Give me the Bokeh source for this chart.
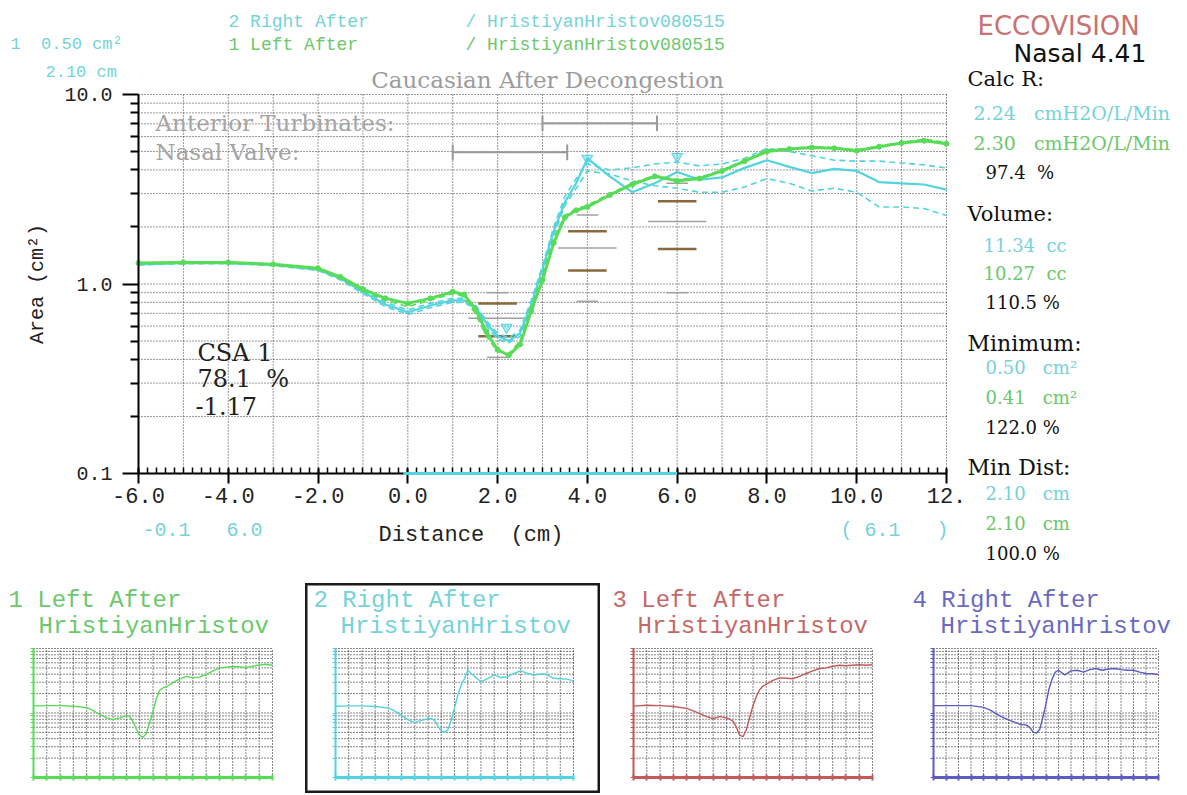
import numpy as np
from bokeh.plotting import figure
from bokeh.models import Label, FixedTicker, Range1d
from bokeh.layouts import column, row
from bokeh.embed import file_html
from bokeh.resources import INLINE

# ---------------- data ----------------
dist_cm = [-6, -5, -4, -3, -2, -1.5, -1, -0.5, 0, 0.5, 1, 1.25, 1.5, 1.75, 2, 2.25, 2.5, 2.75,
           3, 3.25, 3.5, 3.75, 4, 4.5, 5, 5.5, 6, 6.5, 7, 7.5, 8, 8.5, 9, 9.5, 10, 10.5, 11, 11.5, 12]

left_after = [1.29, 1.30, 1.30, 1.27, 1.21, 1.09, 0.94, 0.84, 0.79, 0.84, 0.91, 0.88, 0.74, 0.56, 0.45, 0.42, 0.48, 0.72,
              1.05, 1.65, 2.25, 2.45, 2.55, 2.95, 3.35, 3.70, 3.50, 3.60, 3.95, 4.45, 5.00, 5.15, 5.25, 5.20, 5.05, 5.30, 5.55, 5.70, 5.50]
left_after_ref = [1.28, 1.31, 1.31, 1.26, 1.20, 1.07, 0.92, 0.82, 0.76, 0.82, 0.89, 0.86, 0.70, 0.53, 0.44, 0.43, 0.50, 0.76,
                  1.12, 1.75, 2.30, 2.50, 2.60, 3.00, 3.40, 3.75, 3.55, 3.65, 4.00, 4.50, 5.10, 5.20, 5.30, 5.25, 5.10, 5.35, 5.60, 5.80, 5.60]
right_after = [1.27, 1.29, 1.29, 1.26, 1.19, 1.07, 0.91, 0.78, 0.71, 0.77, 0.82, 0.82, 0.76, 0.62, 0.53, 0.50, 0.55, 0.78,
               1.20, 1.90, 2.70, 3.40, 4.60, 3.70, 3.05, 3.40, 3.90, 3.55, 3.65, 4.10, 4.50, 4.15, 3.85, 4.05, 3.95, 3.45, 3.40, 3.35, 3.15]
right_after_hi = [1.28, 1.30, 1.30, 1.27, 1.21, 1.09, 0.93, 0.80, 0.73, 0.79, 0.84, 0.84, 0.78, 0.64, 0.55, 0.52, 0.57, 0.82,
                  1.25, 2.00, 2.90, 3.60, 4.30, 4.00, 4.10, 4.30, 4.40, 4.20, 4.30, 4.60, 5.20, 5.00, 4.75, 4.50, 4.45, 4.45, 4.35, 4.25, 4.10]
right_after_lo = [1.26, 1.28, 1.28, 1.25, 1.18, 1.05, 0.89, 0.76, 0.69, 0.75, 0.80, 0.80, 0.74, 0.60, 0.51, 0.49, 0.53, 0.74,
                  1.15, 1.80, 2.60, 3.20, 3.95, 3.80, 3.50, 3.30, 3.20, 3.05, 3.05, 3.25, 3.60, 3.40, 3.10, 3.20, 3.05, 2.55, 2.55, 2.50, 2.30]
left_after_3 = [1.28, 1.32, 1.30, 1.26, 1.18, 1.08, 0.98, 0.88, 0.82, 0.88, 0.84, 0.80, 0.74, 0.60, 0.45, 0.43, 0.55, 0.85,
                1.30, 1.80, 2.30, 2.60, 2.80, 3.20, 3.50, 3.45, 3.40, 3.70, 4.10, 4.50, 4.90, 5.00, 5.30, 5.50, 5.40, 5.50, 5.60, 5.50, 5.60]
right_after_4 = [1.30, 1.30, 1.30, 1.30, 1.22, 1.12, 0.98, 0.86, 0.78, 0.72, 0.66, 0.66, 0.64, 0.58, 0.50, 0.49, 0.56, 0.85,
                 1.40, 2.40, 3.40, 4.30, 4.60, 3.90, 4.50, 4.60, 4.30, 4.70, 4.90, 4.60, 4.80, 4.90, 4.70, 4.60, 4.60, 4.30, 4.10, 4.05, 3.95]

# normative (Caucasian after decongestion) reference marks
norm_x = [2.0, 4.0, 6.0]
norm_sd_hi = [0.79, 1.90, 2.73]
norm_sd_lo = [0.53, 1.18, 1.53]
norm_mean = [0.66, 1.55, 2.14]
norm_2sd_hi = [0.90, 2.31, 3.40]
norm_2sd_lo = [0.41, 0.81, 0.90]

region_names = ["Anterior Turbinates:", "Nasal Valve:"]
region_start = [3.0, 1.0]
region_end = [5.55, 3.55]
region_area = [7.05, 4.95]

marker_x = [2.2, 4.0, 6.0]
marker_area = [0.59, 4.6, 4.7]

measure_range = [-0.1, 6.0]

x_ticks = [-6, -4, -2, 0, 2, 4, 6, 8, 10, 12]
x_tick_labels = ["-6.0", "-4.0", "-2.0", "0.0", "2.0", "4.0", "6.0", "8.0", "10.0", "12."]
y_ticks = [0.1, 1, 10]
y_tick_labels = ["0.1", "1.0", "10.0"]

# ---------------- styles ----------------
CYAN = "#52d4df"
CYAN_T = "#74d3d9"
GREEN = "#58dc58"
GREEN_T = "#6cc86c"
RED = "#c25a5a"
BLUE = "#5c5cc4"
GRAY_T = "#9c9c9c"
BROWN = "#8a6a3c"
GRID = "#333333"
MONO = "Liberation Mono"
SERIF = "DejaVu Serif"
SANS = "DejaVu Sans"
SP = "\u00a0"   # hard space: keeps the column spacing of the original texts

LOG_GRID = [m * 10.0 ** e for e in (-1, 0) for m in range(1, 10)] + [10.0]
LOG_MINOR = [m * 10.0 ** e for e in (-1, 0) for m in range(2, 10)]
INT_GRID = list(range(-6, 13))

# main canvas: the frame covers the whole canvas, the data box sits inside it
W_MAIN, H_MAIN = 1187, 583
FL, FT, FW, FH = 138, 94, 808, 379     # data box (px) inside the canvas
KX = FW / 18.0
DEC = FH / 2.0


def mx(px):
    return -6 + (px - FL) / KX


def my(py):
    return 10 ** (-1 + (FT + FH - py) / DEC)


def add_text(fig, x, y, text, color, font, size, align="left", baseline="middle"):
    fig.add_layout(Label(x=x, y=y, text=text.replace("  ", SP + SP).replace(SP + " ", SP + SP),
                         text_color=color, text_font=font,
                         text_font_size=f"{size}px", text_align=align, text_baseline=baseline))


def draw_grid(fig, color, dash="1 2", level="underlay"):
    vx = INT_GRID[1:]
    fig.segment(x0=vx, x1=vx, y0=[0.1] * len(vx), y1=[10.0] * len(vx), line_color=color,
                line_width=1, line_dash=dash, level=level)
    hy = LOG_GRID[1:]
    fig.segment(x0=[-6] * len(hy), x1=[12] * len(hy), y0=hy, y1=hy, line_color=color,
                line_width=1, line_dash=dash, level=level)


p = figure(frame_width=W_MAIN, frame_height=H_MAIN,
           x_range=Range1d(mx(0), mx(W_MAIN)), y_range=Range1d(my(H_MAIN), my(0)),
           y_axis_type="log", min_border=0, output_backend="svg",
           toolbar_location=None, outline_line_color=None)
p.xgrid.visible = False
p.ygrid.visible = False
draw_grid(p, GRID)

# axes, pinned to the data box
xa = p.xaxis[0]
xa.fixed_location = 0.1
xa.bounds = (-6, 12)
xa.ticker = FixedTicker(ticks=x_ticks, minor_ticks=[round(v, 2) for v in np.arange(-6, 12.001, 0.2)])
xa.major_label_overrides = {t: l for t, l in zip(x_ticks, x_tick_labels)}
xa.axis_line_color = "black"
xa.axis_line_width = 2
xa.major_tick_in = 5
xa.major_tick_out = 10
xa.minor_tick_in = 6
xa.minor_tick_out = 0
xa.major_tick_line_width = 2
xa.minor_tick_line_width = 1.5
xa.major_tick_line_color = "black"
xa.minor_tick_line_color = "black"
xa.major_label_text_font = MONO
xa.major_label_text_font_size = "22px"
xa.major_label_text_color = "#222222"
xa.major_label_standoff = 4

ya = p.yaxis[0]
ya.fixed_location = -6
ya.bounds = (0.1, 10)
ya.ticker = FixedTicker(ticks=y_ticks, minor_ticks=LOG_MINOR)
ya.major_label_overrides = {t: l for t, l in zip(y_ticks, y_tick_labels)}
ya.axis_line_color = "black"
ya.axis_line_width = 2
ya.major_tick_in = 0
ya.major_tick_out = 16
ya.minor_tick_in = 0
ya.minor_tick_out = 8
ya.major_tick_line_width = 2
ya.minor_tick_line_width = 2
ya.major_label_text_font = MONO
ya.major_label_text_font_size = "20px"
ya.major_label_text_color = "#222222"
ya.major_label_standoff = 10
ya.axis_label = "Area (cm²)"
ya.axis_label_text_font = MONO
ya.axis_label_text_font_size = "20px"
ya.axis_label_text_font_style = "normal"
ya.axis_label_text_color = "#222222"
ya.axis_label_standoff = 12

# normative marks
nx = np.array(norm_x)
p.segment(x0=nx - 0.65, x1=nx + 0.65, y0=norm_mean, y1=norm_mean, line_color="#a0a0a0", line_width=1.5)
p.segment(x0=nx - 0.24, x1=nx + 0.24, y0=norm_2sd_hi, y1=norm_2sd_hi, line_color="#a0a0a0", line_width=1.5)
p.segment(x0=nx - 0.24, x1=nx + 0.24, y0=norm_2sd_lo, y1=norm_2sd_lo, line_color="#a0a0a0", line_width=1.5)
p.segment(x0=nx - 0.43, x1=nx + 0.43, y0=norm_sd_hi, y1=norm_sd_hi, line_color=BROWN, line_width=2.5)
p.segment(x0=nx - 0.43, x1=nx + 0.43, y0=norm_sd_lo, y1=norm_sd_lo, line_color=BROWN, line_width=2.5)

# anatomical regions
p.segment(x0=region_start, x1=region_end, y0=region_area, y1=region_area, line_color="#9a9a9a", line_width=2)
cap_lo = [a / 1.1 for a in region_area]
cap_hi = [a * 1.1 for a in region_area]
p.segment(x0=region_start, x1=region_start, y0=cap_lo, y1=cap_hi, line_color="#9a9a9a", line_width=2)
p.segment(x0=region_end, x1=region_end, y0=cap_lo, y1=cap_hi, line_color="#9a9a9a", line_width=2)
for name, a in zip(region_names, region_area):
    add_text(p, mx(155), a, name, "#a4a4a4", SERIF, 23)

# curves
p.line(dist_cm, right_after_hi, line_color=CYAN, line_width=1.6, line_dash="6 4")
p.line(dist_cm, right_after_lo, line_color=CYAN, line_width=1.6, line_dash="6 4")
p.line(dist_cm, right_after, line_color=CYAN, line_width=2.2)
p.line(dist_cm, left_after_ref, line_color=GREEN, line_width=1.6, line_dash="6 4")
p.line(dist_cm, left_after, line_color=GREEN, line_width=3)
p.scatter(dist_cm, left_after, size=5, color=GREEN)
p.scatter(marker_x, marker_area, marker="inverted_triangle", size=11, fill_color=CYAN,
          fill_alpha=0.5, line_color=CYAN)
p.segment(x0=[measure_range[0]], x1=[measure_range[1]], y0=[0.1], y1=[0.1], line_color=CYAN,
          line_width=3, level="overlay")

# ---------------- texts ----------------
# header
add_text(p, mx(10), my(44), "1  0.50 cm²", CYAN_T, MONO, 17)
add_text(p, mx(45), my(72), "2.10 cm", CYAN_T, MONO, 17)
add_text(p, mx(228), my(21), "2 Right After", CYAN_T, MONO, 18)
add_text(p, mx(465), my(21), "/ HristiyanHristov080515", CYAN_T, MONO, 18)
add_text(p, mx(228), my(44), "1 Left After", GREEN_T, MONO, 18)
add_text(p, mx(465), my(44), "/ HristiyanHristov080515", GREEN_T, MONO, 18)
add_text(p, mx(547), my(79), "Caucasian After Decongestion", GRAY_T, SERIF, 23, align="center")

# CSA box
add_text(p, mx(197), my(352), "CSA 1", "#222222", SERIF, 24)
add_text(p, mx(197), my(378), "78.1  %", "#222222", SERIF, 24)
add_text(p, mx(195), my(405), "-1.17", "#222222", SERIF, 24)

# below the axis
add_text(p, mx(142), my(530), "-0.1   6.0", CYAN_T, MONO, 20)
add_text(p, mx(378), my(535), "Distance  (cm)", "#222222", MONO, 22)
add_text(p, mx(840), my(530), "( 6.1   )", CYAN_T, MONO, 20)

# right panel
add_text(p, mx(977), my(25), "ECCOVISION", "#c87272", SANS, 26)
add_text(p, mx(1013), my(53), "Nasal 4.41", "#111111", SANS, 25)
right_rows = [
    (967, 78, "Calc R:", "#111111", 21),
    (973, 112, "2.24   cmH2O/L/Min", CYAN_T, 19),
    (973, 142, "2.30   cmH2O/L/Min", GREEN_T, 19),
    (985, 172, "97.4  %", "#111111", 18),
    (967, 213, "Volume:", "#111111", 21),
    (983, 245, "11.34  cc", CYAN_T, 18),
    (983, 273, "10.27  cc", GREEN_T, 18),
    (985, 302, "110.5 %", "#111111", 18),
    (967, 343, "Minimum:", "#111111", 22),
    (985, 367, "0.50   cm²", CYAN_T, 18),
    (985, 397, "0.41   cm²", GREEN_T, 18),
    (985, 427, "122.0 %", "#111111", 18),
    (967, 467, "Min Dist:", "#111111", 22),
    (985, 493, "2.10   cm", CYAN_T, 18),
    (985, 523, "2.10   cm", GREEN_T, 18),
    (985, 553, "100.0 %", "#111111", 18),
]
for px, py, t, c, s in right_rows:
    add_text(p, mx(px), my(py), t, c, SERIF, s)


# ---------------- small panels ----------------
SP_TOP = 583          # page y of the small-panel row
SP_H = 210
SP_FT, SP_FH = 65, 129  # data box inside each small canvas


def small_panel(series, color, text_color, title1, title2, canvas_left, canvas_w, frame_left, frame_w,
                t1x, t2x, boxed=False):
    kx = frame_w / 18.0
    dec = SP_FH / 2.0

    def sx(px):
        return -6 + (px - frame_left) / kx

    def sy(py):
        return 10 ** (-1 + (SP_TOP + SP_FT + SP_FH - py) / dec)

    f = figure(frame_width=canvas_w, frame_height=SP_H,
               x_range=Range1d(sx(canvas_left), sx(canvas_left + canvas_w)),
               y_range=Range1d(sy(SP_TOP + SP_H), sy(SP_TOP)),
               y_axis_type="log", min_border=0, output_backend="svg", toolbar_location=None,
               outline_line_color="#1a1a1a" if boxed else None, outline_line_width=4)
    f.xgrid.visible = False
    f.ygrid.visible = False
    draw_grid(f, "#111111", dash="1 2")
    fx = f.xaxis[0]
    fx.fixed_location = 0.1
    fx.bounds = (-6, 12)
    fx.ticker = FixedTicker(ticks=[], minor_ticks=INT_GRID)
    fx.axis_line_color = color
    fx.axis_line_width = 3
    fx.minor_tick_in = 3
    fx.minor_tick_out = 3
    fx.minor_tick_line_color = color
    fx.minor_tick_line_width = 2
    fy = f.yaxis[0]
    fy.fixed_location = -6
    fy.bounds = (0.1, 10)
    fy.ticker = FixedTicker(ticks=[], minor_ticks=LOG_GRID)
    fy.axis_line_color = color
    fy.axis_line_width = 2
    fy.minor_tick_in = 0
    fy.minor_tick_out = 3
    fy.minor_tick_line_color = color
    f.line(dist_cm, series, line_color=color, line_width=1.4)
    add_text(f, sx(t1x), sy(600), title1, text_color, MONO, 24)
    add_text(f, sx(t2x), sy(626), title2, text_color, MONO, 24)
    return f


f1 = small_panel(left_after, GREEN, GREEN_T, "1 Left After", "HristiyanHristov", 0, 305, 33, 239, 8, 38)
f2 = small_panel(right_after, CYAN, CYAN_T, "2 Right After", "HristiyanHristov", 305, 295, 335, 238, 313, 340,
                 boxed=True)
f3 = small_panel(left_after_3, RED, "#c46868", "3 Left After", "HristiyanHristov", 600, 305, 633, 239, 612, 637)
f4 = small_panel(right_after_4, BLUE, "#6a6ac2", "4 Right After", "HristiyanHristov", 905, 282, 933, 225, 912, 940)

layout = column(p, row(f1, f2, f3, f4))
open("out.html", "w").write(file_html(layout, INLINE))
